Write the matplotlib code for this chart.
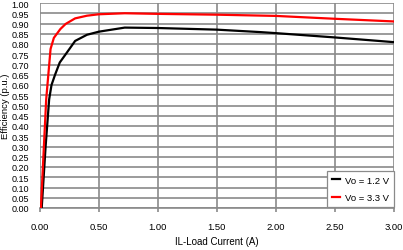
import numpy as np
import matplotlib
matplotlib.use('Agg')
import matplotlib.pyplot as plt

plt.rcParams['font.family'] = ['Liberation Sans', 'DejaVu Sans']

# load current (A) and efficiency (p.u.)
i_12 = [0.017, 0.05, 0.08, 0.10, 0.13, 0.17, 0.22, 0.30, 0.40, 0.50, 0.72, 1.00, 1.50, 1.87, 2.00, 2.50, 3.00]
eff_12 = [0.00, 0.30, 0.53, 0.60, 0.65, 0.71, 0.75, 0.815, 0.845, 0.86, 0.88, 0.878, 0.87, 0.858, 0.853, 0.832, 0.809]

i_33 = [0.01, 0.055, 0.092, 0.12, 0.175, 0.22, 0.30, 0.40, 0.50, 0.72, 1.00, 1.50, 2.00, 2.50, 3.00]
eff_33 = [0.00, 0.53, 0.776, 0.83, 0.873, 0.898, 0.925, 0.938, 0.945, 0.95, 0.947, 0.943, 0.937, 0.923, 0.91]

x_ticks = np.arange(0, 3.01, 0.5)
y_ticks = np.arange(0, 1.001, 0.05)

fig = plt.figure(figsize=(4.03, 2.51), dpi=100)
ax = fig.add_axes([39.7/403, 42/251, 354.3/403, 205/251])

grid_col = '#8a8a8a'
ax.plot(i_12, eff_12, color='black', lw=1.6, label='Vo = 1.2 V', zorder=3)
ax.plot(i_33, eff_33, color='red', lw=1.6, label='Vo = 3.3 V', zorder=3)

ax.set_xlim(0, 3)
ax.set_ylim(0, 1)
ax.set_xticks(x_ticks)
ax.set_yticks(y_ticks)
ax.set_xticklabels([f'{v:.2f}' for v in x_ticks])
ax.set_yticklabels([f'{v:.2f}' for v in y_ticks])
ax.grid(True, color=grid_col, lw=1.2)
ax.set_axisbelow(True)
for s in ax.spines.values():
    s.set_visible(False)
ax.spines['bottom'].set_visible(True)
ax.spines['bottom'].set_color(grid_col)
ax.spines['bottom'].set_linewidth(1.2)
ax.tick_params(axis='y', length=0, labelsize=6.5, pad=7.5)
ax.tick_params(axis='x', length=3, width=1.2, color=grid_col, labelsize=6.8, pad=7)

ax.set_xlabel('IL-Load Current (A)', fontsize=7, labelpad=4)
ax.set_ylabel('Efficiency (p.u.)', fontsize=6.8)
ax.yaxis.set_label_coords(-29.5/354.3, 0.5)

leg = ax.legend(loc='lower right', fontsize=6.8, frameon=True, fancybox=False,
                handlelength=0.9, handletextpad=0.5, borderpad=0.5,
                labelspacing=0.9, borderaxespad=0, bbox_to_anchor=(1.0, 0.005))
leg.get_frame().set_edgecolor(grid_col)
leg.get_frame().set_linewidth(0.9)
leg.get_frame().set_alpha(1)

fig.savefig('out.png', dpi=100)
